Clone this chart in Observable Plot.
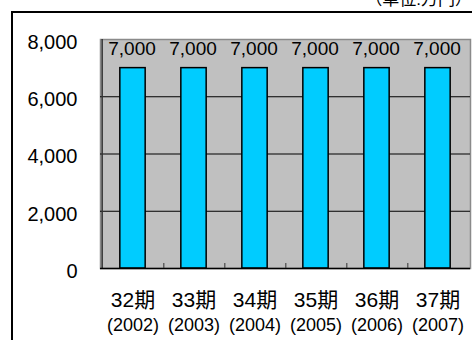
<!DOCTYPE html>
<html>
<head>
<meta charset="utf-8">
<script src="https://cdn.jsdelivr.net/npm/d3@7"></script>
<script src="https://cdn.jsdelivr.net/npm/@observablehq/plot@0.6"></script>
<style>
  html, body { margin: 0; padding: 0; background: #fff; }
  #wrap {
    position: relative; width: 472px; height: 340px; overflow: hidden;
    font-family: "Liberation Sans", Arial, "Noto Sans CJK JP", sans-serif;
  }
  #box {
    position: absolute; left: 11px; top: 11px; width: 600px; height: 600px;
    border-left: 2px solid #000; border-top: 2px solid #000;
  }
  #unit {
    position: absolute; right: 0px; top: -10px; font-size: 17px; line-height: 20px;
    color: #000; white-space: nowrap;
  }
  #chart { position: absolute; left: 0; top: 0; }
</style>
</head>
<body>
<div id="wrap">
  <div id="box"></div>
  <div id="unit">（単位:万円）</div>
  <div id="chart"></div>
</div>
<script>
// Fiscal periods, their years and the amount for each (万円)
const periods = ["32期", "33期", "34期", "35期", "36期", "37期"];
const years = ["(2002)", "(2003)", "(2004)", "(2005)", "(2006)", "(2007)"];
const values = [7000, 7000, 7000, 7000, 7000, 7000];
const yTicks = [0, 2000, 4000, 6000, 8000];
const gridValues = [2000, 4000, 6000];

const rows = periods.map((p, i) => ({period: p, year: years[i], value: values[i]}));

const W = 472, H = 340;
const mL = 100, mR = 2, mT = 39, mB = 72;
const band = (W - mL - mR) / periods.length;
const barW = 26;
const fmt = d3.format(",");
const font = '"Liberation Sans", Arial, "Noto Sans CJK JP", sans-serif';

const chart = Plot.plot({
  width: W,
  height: H,
  marginLeft: mL,
  marginRight: mR,
  marginTop: mT,
  marginBottom: mB,
  style: {background: "transparent", fontFamily: font, color: "#000", overflow: "visible"},
  x: {domain: periods, padding: 0, axis: null},
  y: {domain: [0, 8000], axis: null},
  marks: [
    // plot area
    Plot.frame({fill: "#c0c0c0", stroke: "#8a8a8a", strokeWidth: 1.5}),
    // horizontal gridlines
    Plot.ruleY(gridValues, {stroke: "#000", strokeWidth: 1}),
    // bars
    Plot.barY(rows, {
      x: "period", y: "value",
      fill: "#00ccff", stroke: "#000", strokeWidth: 1.5,
      insetLeft: (band - barW) / 2, insetRight: (band - barW) / 2
    }),
    // value labels
    Plot.text(rows, {
      x: "period", y: "value", text: d => fmt(d.value),
      dy: -19, dx: -1, fontSize: 19, fill: "#000"
    }),
    // value axis line (left edge of the first band) and baseline
    Plot.ruleX([periods[0]], {x: d => d, dx: -band / 2, stroke: "#333", strokeWidth: 1.5}),
    Plot.ruleY([0], {stroke: "#000", strokeWidth: 1.5}),
    // category boundary ticks on the baseline
    Plot.ruleX(periods.slice(0, -1), {
      x: d => d, dx: band / 2, stroke: "#333", strokeWidth: 1,
      insetTop: H - mT - mB - 5
    }),
    // y tick labels
    Plot.axisY({
      ticks: yTicks, tickFormat: fmt, tickSize: 0, tickPadding: 23,
      fontSize: 20, dy: 3, anchor: "left", label: null
    }),
    // category labels (two lines)
    Plot.text(rows, {x: "period", y: 0, text: "period", dy: 32, fontSize: 21, fill: "#000"}),
    Plot.text(rows, {x: "period", y: 0, text: "year", dy: 57, fontSize: 18, fill: "#000"})
  ]
});

document.getElementById("chart").appendChild(chart);
</script>
</body>
</html>
